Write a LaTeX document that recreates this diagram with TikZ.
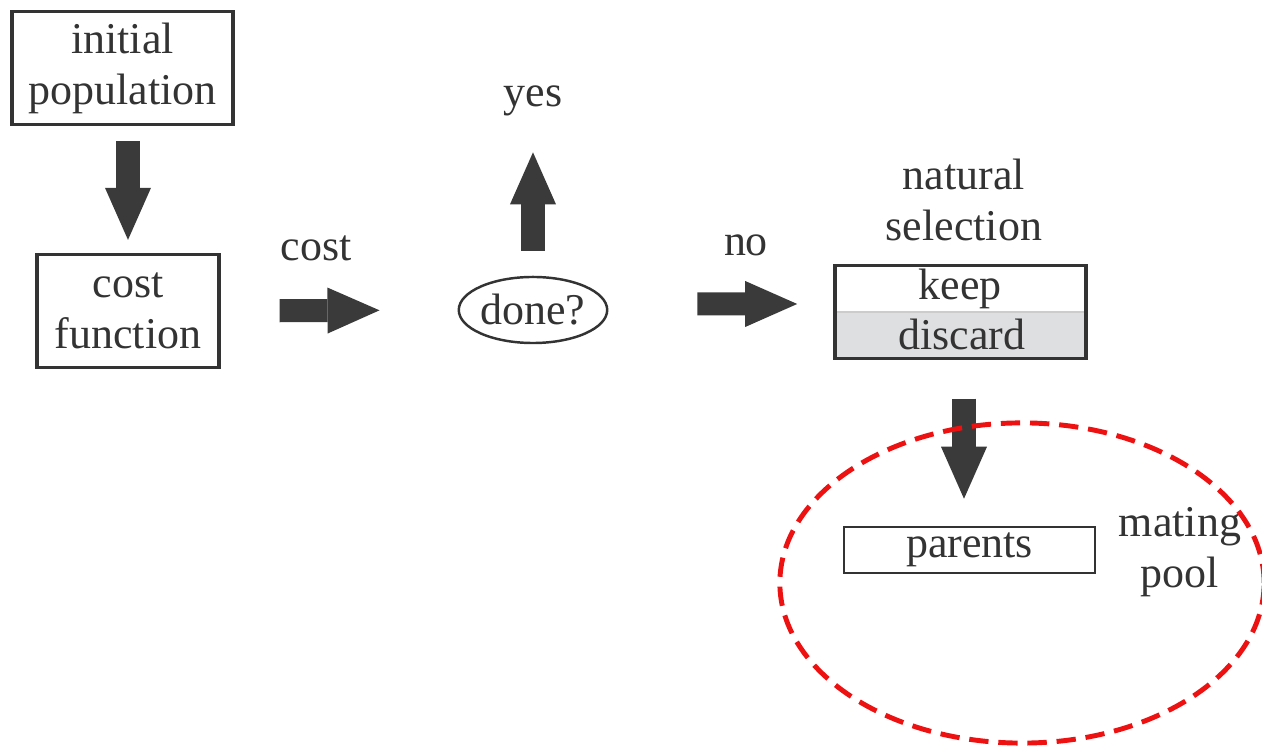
\documentclass[tikz,border=0pt]{standalone}
\usepackage{fontspec}
\setmainfont{Liberation Serif}
\usetikzlibrary{arrows.meta,shapes.geometric}
\definecolor{arrowgray}{HTML}{3A3A3A}
\definecolor{boxgray}{HTML}{333333}
\definecolor{discardgray}{HTML}{DEDFE1}
\definecolor{poolred}{HTML}{EE1111}
\tikzset{
  box/.style={draw=boxgray, line width=0.9pt, align=center, inner sep=0pt},
  blockarrow/.style={draw=arrowgray, line width=0.23cm,
    -{Triangle[length=0.52cm,width=0.46cm,line width=0pt]}},
  txt/.style={align=center, inner sep=1pt},
}
\begin{document}
\begin{tikzpicture}[x=0.01cm, y=-0.01cm, font=\fontsize{12.5}{14.5}\selectfont, text=black!80]
\useasboundingbox (0,0) rectangle (1262,746);

% Cajas
\node[box, minimum width=2.21cm, minimum height=1.13cm] (init) at (122.5,68) {initial\\population};
\node[box, minimum width=1.82cm, minimum height=1.13cm] (costfn) at (128,311) {cost\\function};
\node[box, ellipse, line width=0.7pt, minimum width=1.44cm, minimum height=0.66cm] (done) at (533,310) {done?};
\node[box, line width=0.7pt, minimum width=2.51cm, minimum height=0.46cm] (parents) at (969.5,550) {parents};

% Seleccion: keep / discard
\node[inner sep=0pt, minimum width=2.49cm, minimum height=0.92cm] (sel) at (960.5,312) {};
\fill[discardgray] (sel.west) rectangle (sel.south east);
\draw[gray!40, line width=0.4pt] (sel.west) -- (sel.east);
\draw[boxgray, line width=1pt] (sel.south west) rectangle (sel.north east);
\node[txt] (keep) at (960,289) {keep};
\node[txt] (discard) at (962,334) {discard};

% Etiquetas
\node[txt] (costlbl) at (316,248) {cost};
\node[txt] (yes) at (533,101) {yes};
\node[txt] (no) at (746,245) {no};
\node[txt] (natsel) at (964,200) {natural\\selection};
\node[txt] (pool) at (1180,552) {mating\\pool};

% Flechas
\draw[blockarrow, shorten <=0.15cm, shorten >=0.13cm] (init.south -| costfn.north) -- (costfn.north);
\draw[blockarrow, shorten <=0.59cm, shorten >=0.78cm] (costfn.east) -- (done.west);
\draw[blockarrow, shorten <=0.25cm, shorten >=0.32cm] (done.north) -- (yes.south);
\draw[blockarrow, shorten <=0.89cm, shorten >=0.38cm] ([yshift=0.06cm]done.east) -- ([yshift=0.08cm]sel.west);
\draw[blockarrow, shorten <=0.40cm, shorten >=0.27cm] ([xshift=0.035cm]sel.south) -- ([xshift=0.035cm]sel.south |- parents.north);

% Mating pool
\draw[poolred, line width=1.4pt, dash pattern=on 5.5pt off 2.8pt] (1022,583) ellipse [x radius=2.42cm, y radius=1.6cm];
\end{tikzpicture}
\end{document}
